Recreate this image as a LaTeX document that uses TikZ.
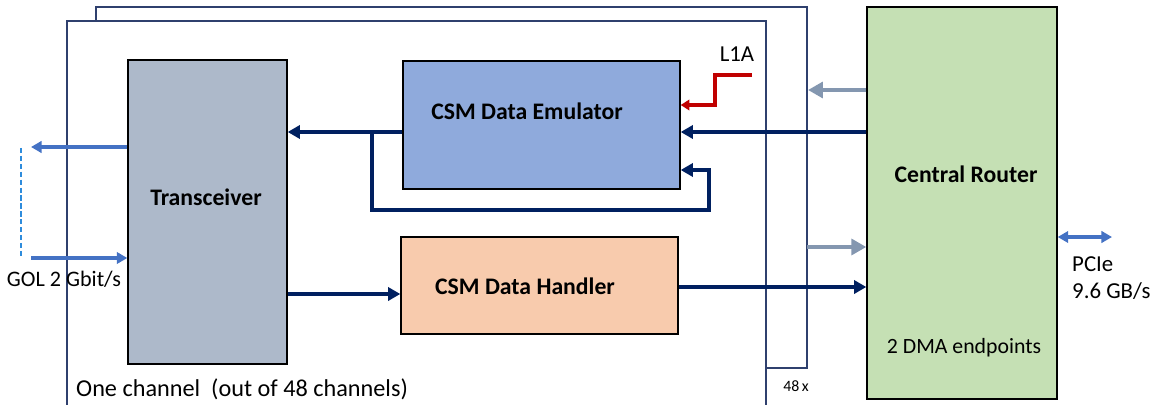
\documentclass[tikz,border=0pt]{standalone}
\usepackage{fontspec}
\setmainfont{Carlito}
\usetikzlibrary{arrows.meta, positioning, calc}
\definecolor{framenavy}{RGB}{47, 64, 110}
\definecolor{linknavy}{RGB}{0, 32, 96}
\definecolor{linkgray}{RGB}{132, 151, 176}
\definecolor{linkblue}{RGB}{68, 114, 196}
\definecolor{dashblue}{RGB}{46, 140, 220}
\definecolor{l1ared}{RGB}{192, 0, 0}
\definecolor{transgray}{RGB}{173, 185, 202}
\definecolor{emublue}{RGB}{143, 170, 220}
\definecolor{handlerorange}{RGB}{248, 203, 173}
\definecolor{routergreen}{RGB}{197, 224, 180}
\tikzset{
  block/.style={draw=black, line width=0.8pt, inner sep=0pt},
  blocktitle/.style={font=\fontsize{13.5}{16}\selectfont\bfseries},
  plaintext/.style={font=\fontsize{13}{15}\selectfont},
  navylink/.style={linknavy, line width=2.3pt, -{Triangle[length=7pt, width=7.5pt]}},
  graylink/.style={linkgray, line width=2.8pt, -{Triangle[length=8.5pt, width=9pt]}},
  bluelink/.style={linkblue, line width=2pt, -{Triangle[length=6pt, width=6.5pt]}}
}

\begin{document}
\begin{tikzpicture}[x=0.02cm, y=-0.02cm]
\useasboundingbox (0,0) rectangle (1158,405);
% Stacked channel frames (48 x)
\draw[framenavy, line width=0.7pt, fill=white] (96,7) rectangle (807,368);
\draw[framenavy, line width=0.7pt, fill=white] (67,420) -- (67,21) -- (766,21) -- (766,420);
\node[font=\fontsize{9}{11}\selectfont] (copies) at (796,386) {48\,x};
\node[font=\fontsize{13.8}{16}\selectfont, anchor=west] (chanlabel) at (70,389) {One channel\ \ (out of 48 channels)};
% Blocks
\node[block, fill=transgray, minimum width=3.18cm, minimum height=6.08cm] (trans) at (207.5,212) {};
\node[blocktitle] (transtitle) at (206,197) {Transceiver};
\node[block, fill=emublue, minimum width=5.54cm, minimum height=2.56cm] (emu) at (541.5,125) {};
\node[blocktitle] (emutitle) at (527,111) {CSM Data Emulator};
\node[block, fill=handlerorange, minimum width=5.54cm, minimum height=1.94cm] (handler) at (539.5,285.5) {};
\node[blocktitle] (handlertitle) at (525,286) {CSM Data Handler};
\node[block, fill=routergreen, minimum width=3.8cm, minimum height=7.84cm] (router) at (962,203) {};
\node[blocktitle] (routertitle) at (966,174) {Central Router};
\node[font=\fontsize{12.4}{15}\selectfont] (dmalabel) at (964,348) {2 DMA endpoints};
% Router <-> channel frames
\draw[graylink] (router.west |- 0,90) -- (808,90);
\draw[graylink] (807,247) -- (router.west |- 0,247);
% Data path
\draw[navylink] (router.west |- 0,132) -- (emu.east |- 0,132);
\draw[navylink] (emu.west |- 0,132) -- (trans.east |- 0,132);
\coordinate (split) at (372,132);
\draw[navylink] (split) -- (372,210) -- (709,210) -- (709,170) -- (emu.east |- 0,170);
\draw[navylink] (trans.east |- 0,294) -- (handler.west |- 0,294);
\draw[navylink] (handler.east |- 0,287) -- (router.west |- 0,287);
% L1A trigger
\coordinate (l1a) at (752,75);
\node[plaintext] (l1alabel) at (737,54) {L1A};
\draw[l1ared, line width=2pt, -{Triangle[length=5pt, width=6pt]}] (l1a) -- (715,75) -- (715,105) -- (emu.east |- 0,105);
% GOL links
\draw[bluelink] (trans.west |- 0,147) -- (31,147);
\draw[bluelink] (31,258) -- (trans.west |- 0,258);
\draw[dashblue, line width=1.1pt, dash pattern=on 3pt off 1.5pt] (21,148) -- (21,258);
\node[font=\fontsize{12.6}{15}\selectfont] (gollabel) at (64,279) {GOL 2 Gbit/s};
% PCIe
\draw[linkblue, line width=2pt, {Triangle[length=6pt, width=6.5pt]}-{Triangle[length=6pt, width=6.5pt]}] (router.east |- 0,237) -- (1112,237);
\node[plaintext, anchor=west, align=left] (pcielabel) at (1066,278) {PCIe\\9.6 GB/s};
\end{tikzpicture}
\end{document}
